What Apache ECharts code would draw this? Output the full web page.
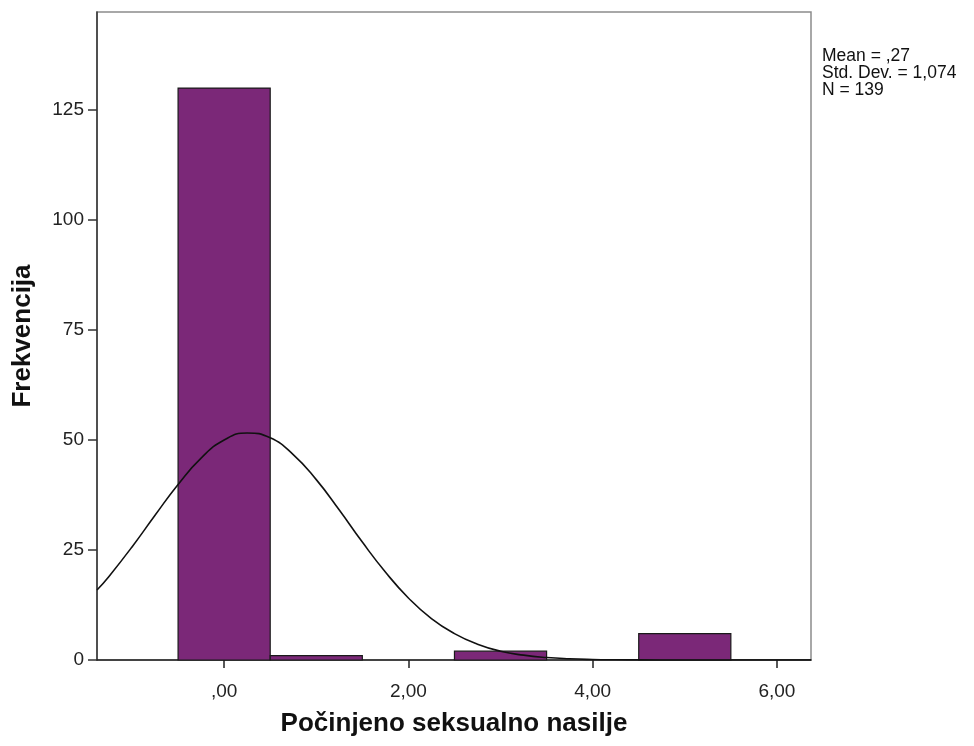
<!DOCTYPE html>
<html>
<head>
<meta charset="utf-8">
<script src="https://cdn.jsdelivr.net/npm/echarts@6/dist/echarts.min.js"></script>
<style>
  html, body { margin: 0; padding: 0; background: #fff; }
  #main { width: 974px; height: 746px; }
</style>
</head>
<body>
<div id="main"></div>
<script>
// histogram bins (start, end) and frequencies
var binStart = [-0.5, 0.5, 2.5, 4.5];
var binEnd = [0.5, 1.5, 3.5, 5.5];
var counts = [130, 1, 2, 6];

// normal curve
var curveX = [-1.38, -1.25, -1, -0.75, -0.5, -0.25, 0, 0.25, 0.5, 0.75, 1, 1.25, 1.5, 1.75, 2, 2.25, 2.5, 2.75, 3, 3.25, 3.5, 3.75, 4, 4.25, 4.5, 5, 5.5, 6, 6.37];
var curveY = [15.9, 19.0, 25.7, 32.9, 39.9, 45.9, 50.0, 51.6, 50.5, 46.7, 41.0, 34.1, 26.8, 20.0, 14.1, 9.4, 6.0, 3.6, 2.0, 1.1, 0.56, 0.27, 0.12, 0.05, 0.02, 0, 0, 0, 0];

var xTicks = [0, 2, 4, 6];
var yTicks = [0, 25, 50, 75, 100, 125];
var statsText = ["Mean = ,27", "Std. Dev. = 1,074", "N = 139"];

var binData = [];
for (var i = 0; i < counts.length; i++) {
  binData.push([binStart[i], binEnd[i], counts[i]]);
}
var curveData = [];
for (var j = 0; j < curveX.length; j++) {
  curveData.push([curveX[j], curveY[j]]);
}

var myChart = echarts.init(document.getElementById("main"));
myChart.setOption({
  animation: false,
  backgroundColor: "#fff",
  textStyle: { fontFamily: "Liberation Sans, Arial, sans-serif" },
  grid: {
    left: 97, right: 163, top: 12, bottom: 86,
    outerBoundsMode: "none",
    containLabel: false,
    show: true, borderColor: "#8c8c8c", borderWidth: 1.5
  },
  xAxis: {
    type: "value",
    min: -1.38, max: 6.37,
    name: "Počinjeno seksualno nasilje",
    nameLocation: "middle",
    nameGap: 51,
    nameTextStyle: { fontSize: 26, fontWeight: "bold", color: "#111" },
    splitLine: { show: false },
    axisLine: { onZero: false, lineStyle: { color: "#222", width: 1.5 } },
    axisTick: { customValues: xTicks, length: 8, lineStyle: { color: "#222", width: 1.5 } },
    axisLabel: {
      customValues: xTicks, fontSize: 19, color: "#222", margin: 22,
      formatter: function (v) { return v === 0 ? ",00" : v + ",00"; }
    }
  },
  yAxis: {
    type: "value",
    min: 0, max: 147.3,
    name: "Frekvencija",
    nameLocation: "middle",
    nameGap: 61,
    nameTextStyle: { fontSize: 26, fontWeight: "bold", color: "#111" },
    splitLine: { show: false },
    axisLine: { show: true, onZero: false, lineStyle: { color: "#333", width: 1.5 } },
    axisTick: { show: true, customValues: yTicks, length: 9, lineStyle: { color: "#333", width: 1.5 } },
    axisLabel: { customValues: yTicks, fontSize: 19, color: "#222", margin: 13 }
  },
  graphic: [{
    type: "text",
    left: 822, top: 47,
    style: {
      text: statsText.join("\n"),
      font: "17.5px Liberation Sans, Arial, sans-serif",
      lineHeight: 17,
      fill: "#111"
    }
  }],
  series: [
    {
      type: "custom",
      data: binData,
      encode: { x: [0, 1], y: 2 },
      renderItem: function (params, api) {
        var p0 = api.coord([api.value(0), 0]);
        var p1 = api.coord([api.value(1), api.value(2)]);
        return {
          type: "rect",
          shape: { x: p0[0], y: p1[1], width: p1[0] - p0[0], height: p0[1] - p1[1] },
          style: { fill: "#7b2878", stroke: "#1a1a1a", lineWidth: 1.2 }
        };
      }
    },
    {
      type: "line",
      data: curveData,
      smooth: true,
      symbol: "none",
      z: 5,
      lineStyle: { color: "#111", width: 1.6 }
    }
  ]
});
</script>
</body>
</html>
